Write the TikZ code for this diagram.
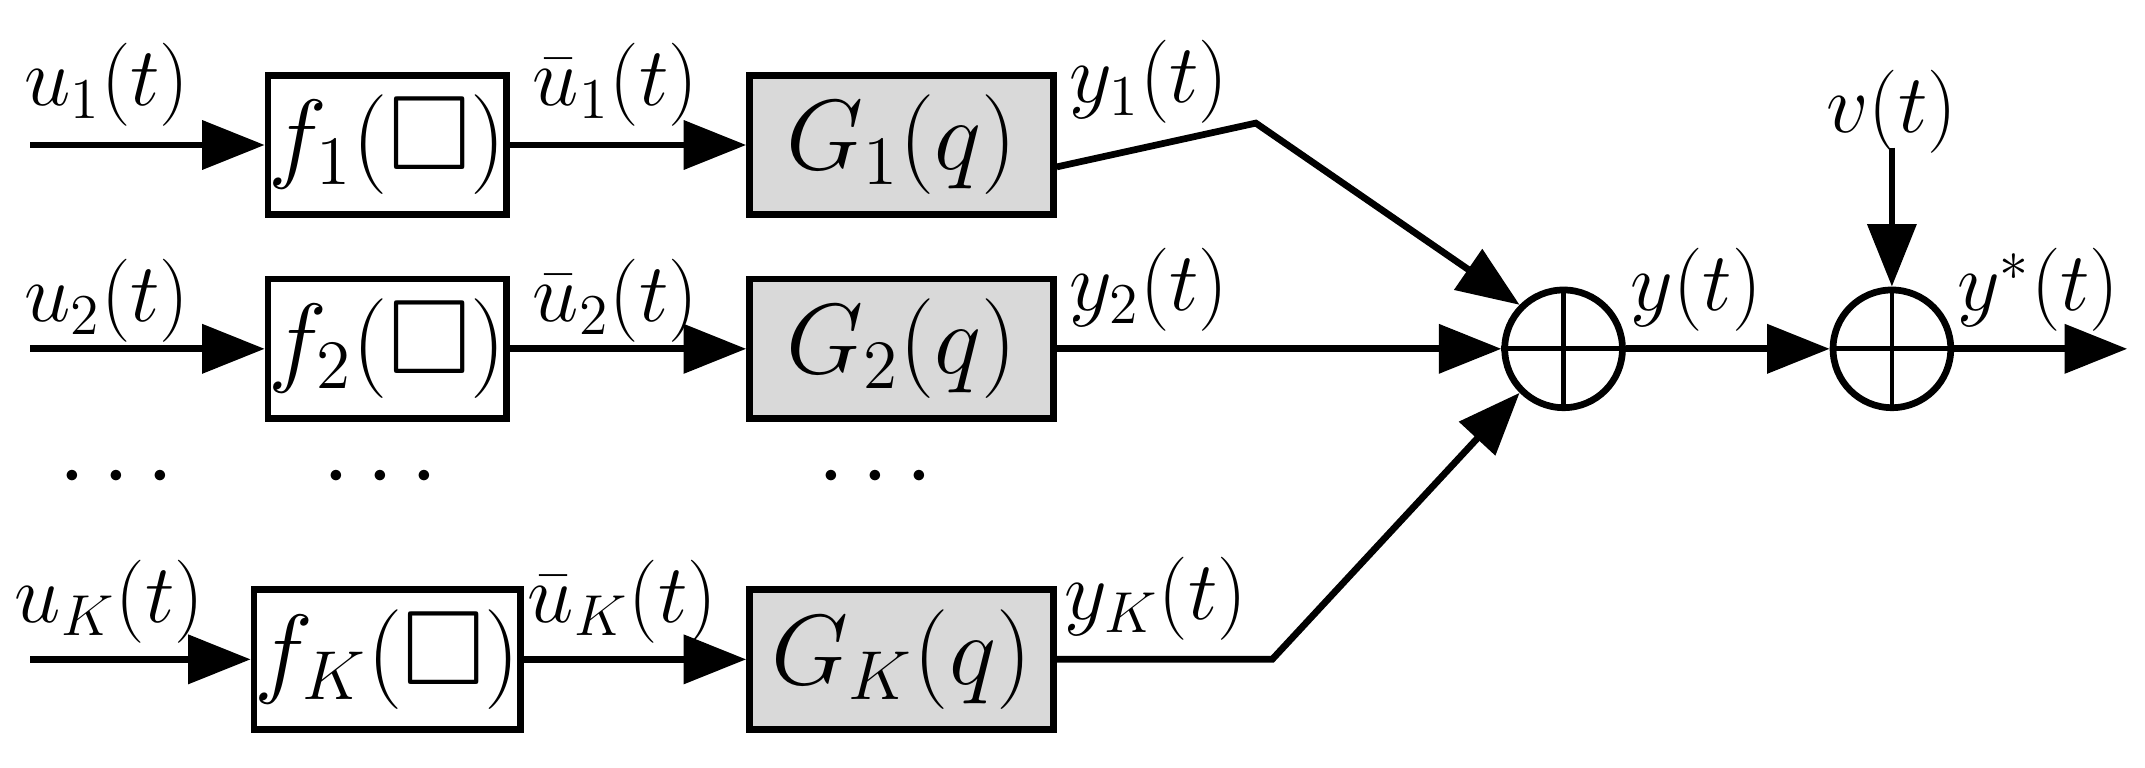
\documentclass[tikz,border=0pt]{standalone}
\usepackage{amssymb}
\usetikzlibrary{arrows.meta}
\begin{document}
\begin{tikzpicture}[x=0.01cm,y=-0.01cm,
  lw/.style={line width=1.4pt},
  arr/.style={lw,-{Triangle[length=13pt,width=10pt]}},
  fbox/.style={draw,lw,minimum width=1.74cm,minimum height=1.02cm,inner sep=0pt,font=\fontsize{22}{24}\selectfont},
  gbox/.style={fbox,fill=gray!30,minimum width=2.22cm},
  sumc/.style={draw,lw,circle,minimum size=0.86cm,inner sep=0pt},
  lab/.style={font=\fontsize{18}{20}\selectfont},
  dots/.style={font=\fontsize{22}{24}\selectfont}]
\useasboundingbox (0,0) rectangle (1568,561);
\foreach \r/\y/\s in {1/106/1,2/255/2,K/482/K}{
  \coordinate (in\r) at (22,\y);
  \node[fbox] (f\r) at (283,\y) {$f_{\s}(\square)$};
  \node[gbox] (g\r) at (659,\y) {$G_{\s}(q)$};
  \draw[arr] (in\r) -- (f\r);
  \draw[arr] (f\r) -- (g\r);
}
\node[lab] (lu1) at (78,62) {$u_1(t)$};
\node[lab] (lu2) at (78,220) {$u_2(t)$};
\node[lab] (luK) at (80,440) {$u_K(t)$};
\node[lab] (lb1) at (450,62) {$\bar u_1(t)$};
\node[lab] (lb2) at (450,220) {$\bar u_2(t)$};
\node[lab] (lbK) at (455,440) {$\bar u_K(t)$};
\node[lab] (ly1) at (840,60) {$y_1(t)$};
\node[lab] (ly2) at (840,212) {$y_2(t)$};
\node[lab] (lyK) at (845,438) {$y_K(t)$};
\node[dots] (d1) at (85,350) {$\cdots$};
\node[dots] (d2) at (278,350) {$\cdots$};
\node[dots] (d3) at (640,350) {$\cdots$};
\node[sumc] (s1) at (1143,255) {};
\node[sumc] (s2) at (1383,255) {};
\foreach \s in {s1,s2}{\draw[line width=1pt] (\s.north) -- (\s.south) (\s.west) -- (\s.east);}
\coordinate (k1) at (918,90);
\coordinate (kK) at (930,482);
\draw[arr] ([yshift=-0.16cm]g1.east) -- (k1) -- (s1.135);
\draw[arr] (g2) -- (s1);
\draw[arr] (gK) -- (kK) -- (s1.225);
\draw[arr] (s1) -- (s2);
\coordinate (v) at (1383,108);
\draw[arr] (v) -- (s2);
\coordinate (out) at (1555,255);
\draw[arr] (s2) -- (out);
\node[lab] (lv) at (1383,82) {$v(t)$};
\node[lab] (ly) at (1240,212) {$y(t)$};
\node[lab] (lys) at (1490,212) {$y^{*}(t)$};
\end{tikzpicture}
\end{document}
